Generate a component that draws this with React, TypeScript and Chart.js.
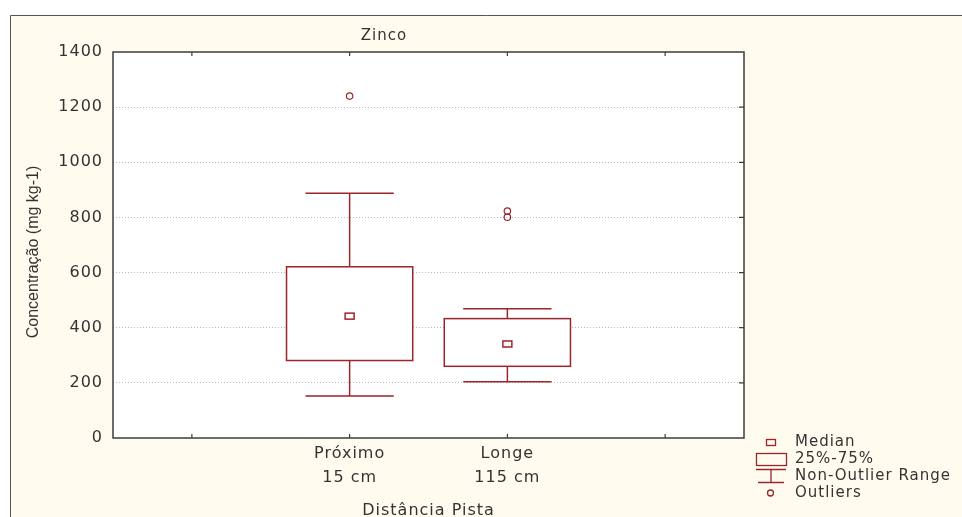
import React, { useEffect, useRef } from 'react';
import { Chart, registerables } from 'chart.js';

Chart.register(...registerables);

// ---- data ----
const chartTitle = 'Zinco';
const xAxisTitle = 'Distância Pista';
const yAxisTitle = 'Concentração (mg kg-1)';
const categories = ['Próximo', 'Longe'];
const distances = ['15 cm', '115 cm'];
const medians = [442, 341];
const q1Values = [281, 260];
const q3Values = [621, 433];
const whiskerLow = [152, 204];
const whiskerHigh = [888, 469];
const outliersProximo = [1240];
const outliersLonge = [823, 801];
const xTickValues = [0, 1, 2, 3];
const yMin = 0;
const yMax = 1400;
const yStep = 200;
const legendLabels = ['Median', '25%-75%', 'Non-Outlier Range', 'Outliers'];

// ---- styles ----
const RED = '#9c252b';
const TEXT = '#333333';
const CREAM = '#fffcef';
const FONT = '"DejaVu Sans", sans-serif';
const BOX_W = 0.8;
const CAP_W = 0.56;

const outlierPoints = [
  ...outliersProximo.map((y) => ({ x: 1, y })),
  ...outliersLonge.map((y) => ({ x: 2, y })),
];

const bgPlugin = {
  id: 'bg',
  beforeDraw(chart: any) {
    const { ctx, chartArea } = chart;
    ctx.save();
    ctx.fillStyle = '#ffffff';
    ctx.fillRect(0, 0, chart.width, chart.height);
    ctx.fillStyle = CREAM;
    ctx.fillRect(10, 15, chart.width - 10, chart.height - 15);
    ctx.strokeStyle = '#555555';
    ctx.lineWidth = 1;
    ctx.beginPath();
    ctx.moveTo(10.5, chart.height);
    ctx.lineTo(10.5, 15.5);
    ctx.lineTo(chart.width, 15.5);
    ctx.stroke();
    ctx.fillStyle = '#ffffff';
    ctx.fillRect(chartArea.left, chartArea.top, chartArea.right - chartArea.left, chartArea.bottom - chartArea.top);
    ctx.restore();
    (ctx as any).letterSpacing = '1px';
  },
};

const boxPlugin = {
  id: 'boxes',
  beforeDatasetsDraw(chart: any) {
    const { ctx } = chart;
    const xs = chart.scales.x;
    const ys = chart.scales.y;
    const unit = xs.getPixelForValue(1) - xs.getPixelForValue(0);
    ctx.save();
    ctx.strokeStyle = RED;
    ctx.lineWidth = 1.5;
    categories.forEach((_, i) => {
      const cx = xs.getPixelForValue(i + 1);
      const bh = (unit * BOX_W) / 2;
      const ch = (unit * CAP_W) / 2;
      const yHi = ys.getPixelForValue(whiskerHigh[i]);
      const yLo = ys.getPixelForValue(whiskerLow[i]);
      const yQ1 = ys.getPixelForValue(q1Values[i]);
      const yQ3 = ys.getPixelForValue(q3Values[i]);
      const yMed = ys.getPixelForValue(medians[i]);
      ctx.beginPath();
      ctx.moveTo(cx, yHi);
      ctx.lineTo(cx, yQ3);
      ctx.moveTo(cx, yQ1);
      ctx.lineTo(cx, yLo);
      ctx.moveTo(cx - ch, yHi);
      ctx.lineTo(cx + ch, yHi);
      ctx.moveTo(cx - ch, yLo);
      ctx.lineTo(cx + ch, yLo);
      ctx.stroke();
      ctx.fillStyle = '#ffffff';
      ctx.fillRect(cx - bh, yQ3, bh * 2, yQ1 - yQ3);
      ctx.strokeRect(cx - bh, yQ3, bh * 2, yQ1 - yQ3);
      ctx.strokeRect(cx - 4.5, yMed - 3, 9, 6);
    });
    ctx.restore();
  },
};

const overlayPlugin = {
  id: 'overlay',
  afterDraw(chart: any) {
    const { ctx, chartArea } = chart;
    const xs = chart.scales.x;
    const ys = chart.scales.y;
    ctx.save();
    // frame
    ctx.strokeStyle = '#3d3d3d';
    ctx.lineWidth = 1.5;
    ctx.strokeRect(chartArea.left, chartArea.top, chartArea.right - chartArea.left, chartArea.bottom - chartArea.top);
    // inward tick marks
    ctx.lineWidth = 1.2;
    ctx.beginPath();
    xs.ticks.forEach((t: any) => {
      const px = xs.getPixelForValue(t.value);
      ctx.moveTo(px, chartArea.top);
      ctx.lineTo(px, chartArea.top + 4);
      ctx.moveTo(px, chartArea.bottom);
      ctx.lineTo(px, chartArea.bottom - 4);
    });
    ys.ticks.forEach((t: any) => {
      if (t.value === yMin || t.value === yMax) return;
      const py = ys.getPixelForValue(t.value);
      ctx.moveTo(chartArea.right - 5, py);
      ctx.lineTo(chartArea.right, py);
    });
    ctx.stroke();

    // titles
    ctx.fillStyle = TEXT;
    (ctx as any).letterSpacing = '1px';
    ctx.font = `15px ${FONT}`;
    ctx.textAlign = 'center';
    ctx.textBaseline = 'alphabetic';
    ctx.fillText(chartTitle, 384, 39.5);
    ctx.font = `16px ${FONT}`;
    ctx.textBaseline = 'middle';
    ctx.fillText(xAxisTitle, (chartArea.left + chartArea.right) / 2, 511);

    ctx.save();
    (ctx as any).letterSpacing = '0px';
    ctx.translate(34, 252);
    ctx.rotate(-Math.PI / 2);
    ctx.font = '16px "Liberation Sans", Arial, sans-serif';
    ctx.textAlign = 'center';
    ctx.textBaseline = 'middle';
    ctx.fillText(yAxisTitle, 0, 0);
    ctx.restore();

    // legend
    ctx.font = `15px ${FONT}`;
    ctx.textAlign = 'left';
    ctx.textBaseline = 'middle';
    legendLabels.forEach((label, i) => {
      ctx.fillText(label, 795, 442 + i * 17);
    });
    ctx.strokeStyle = RED;
    ctx.lineWidth = 1.3;
    ctx.strokeRect(766.5, 439.5, 9, 6);
    ctx.strokeRect(756.5, 453.5, 30, 12);
    ctx.beginPath();
    ctx.moveTo(756, 469.5);
    ctx.lineTo(786, 469.5);
    ctx.moveTo(771, 469.5);
    ctx.lineTo(771, 482.5);
    ctx.moveTo(758, 482.5);
    ctx.lineTo(784, 482.5);
    ctx.stroke();
    ctx.beginPath();
    ctx.arc(770.5, 493, 3, 0, Math.PI * 2);
    ctx.stroke();
    ctx.restore();
  },
};

export default function App() {
  const ref = useRef<HTMLCanvasElement>(null);
  useEffect(() => {
    document.body.style.margin = '0';
    const canvas = ref.current!;
    const chart = new Chart(canvas, {
      type: 'scatter',
      data: {
        datasets: [
          {
            label: 'Outliers',
            data: outlierPoints,
            pointStyle: 'circle',
            pointRadius: 3.2,
            pointHoverRadius: 3.2,
            pointBorderWidth: 1.2,
            borderColor: RED,
            backgroundColor: 'rgba(0,0,0,0)',
          },
        ],
      },
      options: {
        responsive: false,
        animation: false,
        devicePixelRatio: 1,
        layout: { padding: { left: 0, top: 52, right: 218, bottom: 0 } },
        plugins: {
          legend: { display: false },
          tooltip: { enabled: false },
          title: { display: false },
        },
        scales: {
          x: {
            type: 'linear',
            min: -0.5,
            max: 3.5,
            afterBuildTicks: (s: any) => {
              s.ticks = xTickValues.map((v) => ({ value: v }));
            },
            afterFit: (s: any) => {
              s.height = 79;
            },
            grid: { display: false, drawTicks: false },
            border: { display: false },
            ticks: {
              autoSkip: false,
              maxRotation: 0,
              padding: 4,
              color: TEXT,
              font: { family: FONT, size: 16, lineHeight: 1.5 },
              callback: (v: any) => {
                const i = Math.round(Number(v)) - 1;
                if (i >= 0 && i < categories.length) return [categories[i], distances[i]];
                return '';
              },
            },
          },
          y: {
            type: 'linear',
            min: yMin,
            max: yMax,
            afterFit: (s: any) => {
              s.width = 113;
            },
            grid: {
              drawTicks: false,
              lineWidth: 1,
              color: (c: any) =>
                c.tick && (c.tick.value === yMin || c.tick.value === yMax) ? 'rgba(0,0,0,0)' : '#b8b8b8',
            },
            border: { display: false, dash: [1, 2] },
            ticks: {
              stepSize: yStep,
              padding: 10,
              color: TEXT,
              font: { family: FONT, size: 16 },
              callback: (v: any) => String(v),
            },
          },
        },
      } as any,
      plugins: [bgPlugin, boxPlugin, overlayPlugin],
    });
    return () => chart.destroy();
  }, []);
  return (
    <div style={{ position: 'absolute', left: 0, top: 0, width: 962, height: 517 }}>
      <canvas ref={ref} width={962} height={517} style={{ display: 'block' }} />
    </div>
  );
}
